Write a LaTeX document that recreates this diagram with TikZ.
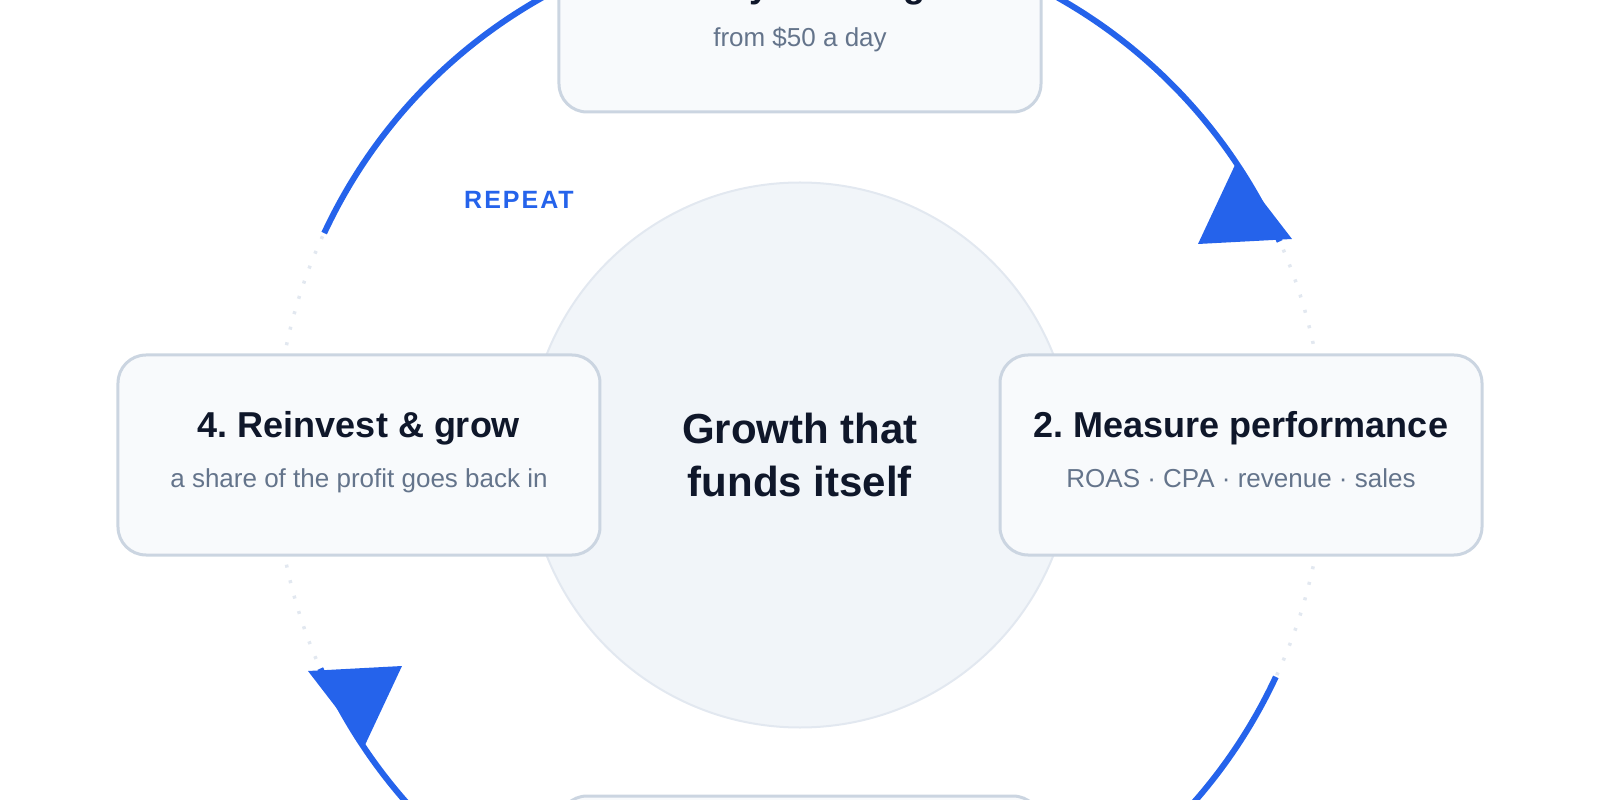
\documentclass[tikz,border=0pt]{standalone}
\usepackage{fontspec}
\setmainfont{Liberation Sans}
\usepackage{xcolor}
\usepackage{tikz}
\frenchspacing

\definecolor{loopblue}{HTML}{2563EB}
\definecolor{card}{HTML}{F8FAFC}
\definecolor{edge}{HTML}{CBD5E1}
\definecolor{hubfill}{HTML}{F1F5F9}
\definecolor{rim}{HTML}{E2E8F0}
\definecolor{ink}{HTML}{0F172A}
\definecolor{muted}{HTML}{64748B}

\tikzset{
  stage/.style={rectangle, rounded corners=28pt, draw=edge, fill=card, line width=3pt, minimum width=482pt, minimum height=200pt},
  title/.style={anchor=base, text=ink, font=\fontsize{36}{40}\selectfont\bfseries},
  desc/.style={anchor=base, text=muted, font=\fontsize{26}{30}\selectfont},
  loopline/.style={draw=loopblue, line width=6pt},
  ringdots/.style={draw=rim, line width=3.5pt, dash pattern=on 3pt off 13pt},
}

\begin{document}
\begin{tikzpicture}[x=1pt, y=1pt]
            \useasboundingbox (-800,-345) rectangle (800,455);
            % ring behind everything
            \draw [ringdots] (0,0) circle [radius=525];
            \coordinate (r1) at (155:525);
            \coordinate (r3) at (-25:525);
            \draw [loopline] (r1) arc [start angle=155, end angle=24, radius=525];
            \draw [loopline] (r3) arc [start angle=-25, end angle=-156, radius=525];
            \fill [loopblue] (435,290) -- (398,211) -- (492,216) -- cycle;
            \fill [loopblue] (-435,-290) -- (-398,-211) -- (-492,-216) -- cycle;
            \node (rep) at (-281,246) [anchor=base, text=loopblue, font=\fontsize{25}{30}\selectfont\bfseries\addfontfeatures{LetterSpace=8}] {REPEAT};
            % hub
            \node (hub) at (0,0) [circle, draw=rim, fill=hubfill, line width=2pt, minimum size=545pt, align=center, text=ink, font=\fontsize{42}{53}\selectfont\bfseries] {Growth that\\funds itself};
            % stages
            \node (s1) at (0,443) [stage] {};
            \node (s2) at (441,0) [stage] {};
            \node (s3) at (0,-441) [stage] {};
            \node (s4) at (-441,0) [stage] {};
            \node (t1) at (0,457) [title] {1. Set your budget};
            \node (d1) at (0,408) [desc] {from \$50 a day};
            \node (t2) at (441,17) [title] {2. Measure performance};
            \node (d2) at (441,-33) [desc] {ROAS · CPA · revenue · sales};
            \node (t4) at (-441,17) [title] {4. Reinvest \& grow};
            \node (d4) at (-441,-33) [desc] {a share of the profit goes back in};
        \end{tikzpicture}
\end{document}
